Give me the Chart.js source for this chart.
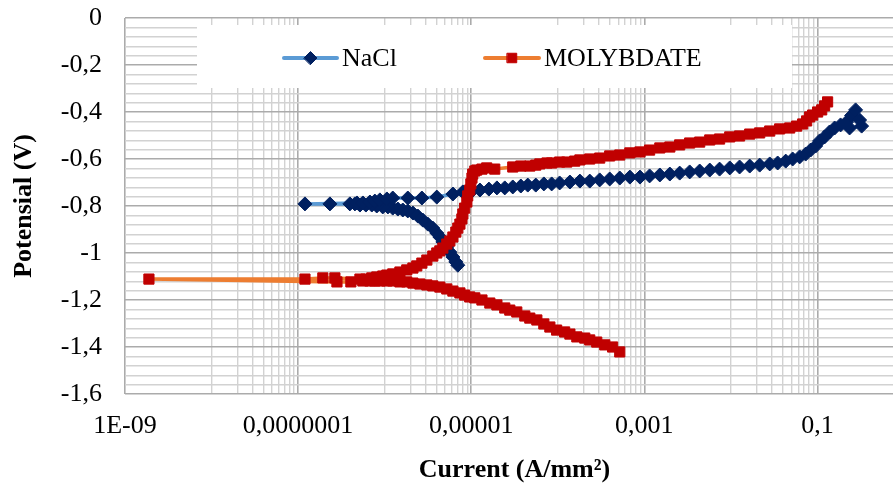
<!DOCTYPE html>
<html><head><meta charset="utf-8">
<script src="https://cdn.jsdelivr.net/npm/chart.js@4.4.1/dist/chart.umd.min.js"></script>
<style>
html,body{margin:0;padding:0;background:#fff;overflow:hidden;width:893px;height:486px}
#wrap{width:893px;height:486px;overflow:hidden;position:relative}
canvas{display:block}
</style></head>
<body><div id="wrap"><canvas id="c" width="920" height="486"></canvas></div>
<script>
const seriesNames = ['NaCl', 'MOLYBDATE'];

const naclCurrent = [
  7.0e-6, 6.64e-6, 6.14e-6, 5.66e-6, 5.22e-6, 4.7e-6, 4.34e-6, 4.0e-6, 3.6e-6, 3.15e-6,
  2.76e-6, 2.42e-6, 2.12e-6, 1.85e-6, 1.62e-6, 1.42e-6, 1.24e-6, 1.09e-6, 9.5e-7, 8.1e-7,
  7.1e-7, 6.07e-7, 5.18e-7, 4.53e-7, 3.96e-7, 2.33e-7, 1.2e-7,
  4.78e-7, 5.6e-7, 6.75e-7, 7.7e-7, 8.8e-7, 1.06e-6, 1.24e-6, 1.85e-6, 2.69e-6, 4.0e-6,
  6.14e-6, 8.0e-6, 1.02e-5, 1.26e-5, 1.6e-5, 1.98e-5, 2.44e-5, 3.02e-5, 3.74e-5, 4.5e-5,
  5.57e-5, 6.9e-5, 8.5e-5, 1.05e-4, 1.38e-4, 1.8e-4, 2.34e-4, 3.05e-4, 3.98e-4, 5.2e-4,
  6.8e-4, 8.9e-4, 1.15e-3, 1.51e-3, 1.97e-3, 2.56e-3, 3.34e-3, 4.36e-3, 5.7e-3, 7.4e-3,
  9.7e-3, 0.0126, 0.0165, 0.0215, 0.0281, 0.0347, 0.043, 0.0517, 0.0623, 0.0731, 0.0834,
  0.0953, 0.106, 0.121, 0.138, 0.158, 0.185, 0.217, 0.248, 0.276, 0.307, 0.324, 0.235
];
const naclPotential = [
  -1.052, -1.038, -1.017, -0.996, -0.974, -0.953, -0.932, -0.915, -0.894, -0.877,
  -0.860, -0.843, -0.830, -0.821, -0.817, -0.813, -0.809, -0.804, -0.804, -0.800,
  -0.796, -0.796, -0.796, -0.791, -0.791, -0.791, -0.791,
  -0.787, -0.787, -0.783, -0.779, -0.774, -0.770, -0.766, -0.766, -0.766, -0.762,
  -0.749, -0.740, -0.736, -0.732, -0.728, -0.723, -0.723, -0.719, -0.715, -0.711,
  -0.711, -0.706, -0.706, -0.702, -0.698, -0.694, -0.694, -0.689, -0.685, -0.681,
  -0.677, -0.677, -0.672, -0.668, -0.664, -0.660, -0.655, -0.651, -0.647, -0.643,
  -0.638, -0.634, -0.630, -0.626, -0.621, -0.617, -0.609, -0.600, -0.591, -0.579, -0.562,
  -0.545, -0.523, -0.506, -0.485, -0.468, -0.455, -0.443, -0.415, -0.391, -0.434, -0.460, -0.468
];

const molyCurrent = [
  5.2e-4, 4.3e-4, 3.49e-4, 2.82e-4, 2.34e-4, 2.05e-4, 1.66e-4, 1.38e-4, 1.2e-4, 9.7e-5,
  8.1e-5, 6.9e-5, 5.73e-5, 4.75e-5, 4.16e-5, 3.36e-5, 2.79e-5, 2.44e-5, 1.98e-5, 1.64e-5,
  1.33e-5, 1.10e-5, 9.6e-6, 8.4e-6, 7.4e-6, 6.14e-6, 5.22e-6, 4.34e-6, 3.6e-6, 3.07e-6,
  2.55e-6, 2.12e-6, 1.8e-6, 1.5e-6, 1.24e-6, 1.06e-6, 8.8e-7, 7.7e-7, 6.75e-7, 5.6e-7,
  4.07e-7, 2.81e-7, 1.89e-9, 1.2e-7, 1.93e-7, 2.66e-7, 5.18e-7, 6.07e-7, 7.1e-7, 8.1e-7,
  9.5e-7, 1.06e-6, 1.24e-6, 1.5e-6, 1.8e-6, 2.12e-6, 2.35e-6, 2.69e-6, 3.07e-6, 3.6e-6,
  4.0e-6, 4.34e-6, 4.7e-6, 5.22e-6, 5.66e-6, 6.14e-6, 6.64e-6, 7.0e-6, 7.4e-6, 7.8e-6,
  8.0e-6, 8.4e-6, 8.9e-6, 9.1e-6, 9.6e-6, 9.9e-6, 1.02e-5, 1.04e-5, 1.10e-5, 1.16e-5,
  1.33e-5, 1.51e-5, 1.87e-5, 3.02e-5, 3.74e-5, 4.75e-5, 5.57e-5, 6.2e-5, 7.5e-5, 8.5e-5,
  1.05e-4, 1.27e-4, 1.57e-4, 1.8e-4, 2.34e-4, 3.05e-4, 3.98e-4, 5.2e-4, 6.8e-4, 8.9e-4,
  1.15e-3, 1.51e-3, 1.97e-3, 2.56e-3, 3.34e-3, 4.36e-3, 5.7e-3, 7.4e-3, 9.7e-3, 0.0126,
  0.0165, 0.0215, 0.0281, 0.0366, 0.0478, 0.0575, 0.0675, 0.075, 0.0813, 0.088,
  0.1005, 0.112, 0.121, 0.131
];
const molyPotential = [
  -1.421, -1.400, -1.391, -1.379, -1.370, -1.362, -1.357, -1.345, -1.336, -1.328,
  -1.315, -1.302, -1.285, -1.277, -1.268, -1.251, -1.243, -1.234, -1.221, -1.213,
  -1.200, -1.191, -1.187, -1.179, -1.170, -1.162, -1.153, -1.145, -1.140, -1.136,
  -1.132, -1.128, -1.123, -1.123, -1.119, -1.119, -1.119, -1.119, -1.119, -1.119,
  -1.123, -1.123, -1.111, -1.111, -1.106, -1.106, -1.111, -1.111, -1.106, -1.102,
  -1.098, -1.094, -1.089, -1.081, -1.072, -1.064, -1.055, -1.043, -1.030, -1.013,
  -1.000, -0.991, -0.979, -0.962, -0.949, -0.932, -0.911, -0.894, -0.877, -0.855,
  -0.834, -0.809, -0.783, -0.757, -0.732, -0.706, -0.681, -0.664, -0.651, -0.647,
  -0.643, -0.638, -0.643, -0.634, -0.630, -0.630, -0.626, -0.621, -0.617, -0.617,
  -0.613, -0.613, -0.609, -0.604, -0.600, -0.596, -0.587, -0.583, -0.574, -0.570,
  -0.562, -0.553, -0.549, -0.540, -0.532, -0.528, -0.519, -0.515, -0.506, -0.502,
  -0.494, -0.489, -0.481, -0.472, -0.468, -0.460, -0.451, -0.438, -0.421, -0.413,
  -0.400, -0.391, -0.374, -0.357
];

const xTickValues = [1e-9, 1e-7, 1e-5, 1e-3, 1e-1];
const xTickLabels = ['1E-09', '0,0000001', '0,00001', '0,001', '0,1'];
const yTickValues = [0, -0.2, -0.4, -0.6, -0.8, -1, -1.2, -1.4, -1.6];
const yTickLabels = ['0', '-0,2', '-0,4', '-0,6', '-0,8', '-1', '-1,2', '-1,4', '-1,6'];
const xAxisTitle = 'Current (A/mm²)';
const yAxisTitle = 'Potensial (V)';

const X_MIN = 1e-9, X_MAX = 1;
const Y_MIN = -1.6, Y_MAX = 0, Y_MINOR = 0.04;
const MAJOR_GRID = '#ababab', MINOR_GRID = '#d2d2d2';
const FONT = "'Liberation Serif', 'Times New Roman', serif";

const lineColors = ['#5B9BD5', '#ED7D31'];
const markerColors = ['#002060', '#C00000'];
const markerStyles = ['rectRot', 'rect'];
const markerRadius = [7, 7.2];

function toPoints(xs, ys) { return xs.map((x, i) => ({ x: x, y: ys[i] })); }

function isMajorX(v) {
  if (Math.abs(Math.log10(v) - Math.log10(X_MAX)) < 1e-6) return true;
  return xTickValues.some(t => Math.abs(Math.log10(v) - Math.log10(t)) < 1e-6);
}
function xLabel(v) {
  const i = xTickValues.findIndex(t => Math.abs(Math.log10(v) - Math.log10(t)) < 1e-6);
  return i >= 0 ? xTickLabels[i] : '';
}
function yIndex(v) { return yTickValues.findIndex(t => Math.abs(v - t) < 1e-6); }

function buildXTicks() {
  const vals = xTickValues.slice();
  vals.push(X_MAX);
  for (let i = 0; i < xTickValues.length; i++) {
    const base = xTickValues[i] * 10;
    for (let k = 1; k <= 9; k++) vals.push(base * k);
  }
  return vals.filter(v => v <= X_MAX * 1.0000001).sort((a, b) => a - b).map(v => ({ value: v }));
}
function buildYTicks() {
  const out = [];
  const n = Math.round((Y_MAX - Y_MIN) / Y_MINOR);
  for (let i = 0; i <= n; i++) out.push({ value: Math.round((Y_MIN + i * Y_MINOR) * 1000) / 1000 });
  return out;
}

function drawMarker(ctx, style, r, x, y, color) {
  ctx.fillStyle = color; ctx.strokeStyle = color; ctx.lineWidth = 1;
  ctx.beginPath();
  if (style === 'rectRot') {
    ctx.moveTo(x - r, y); ctx.lineTo(x, y - r); ctx.lineTo(x + r, y); ctx.lineTo(x, y + r);
    ctx.closePath();
  } else {
    const s = Math.SQRT1_2 * r;
    ctx.rect(x - s, y - s, 2 * s, 2 * s);
  }
  ctx.fill(); ctx.stroke();
}

const legendPlugin = {
  id: 'insetLegend',
  beforeDatasetsDraw(chart) {
    const ctx = chart.ctx;
    ctx.save();
    ctx.fillStyle = '#ffffff';
    ctx.fillRect(197, 25, 595, 63);
    const pos = [{ x0: 284, x1: 337, tx: 342 }, { x0: 485, x1: 539, tx: 544 }];
    const y = 58;
    chart.data.datasets.forEach((ds, i) => {
      const p = pos[i];
      ctx.strokeStyle = lineColors[i];
      ctx.lineWidth = 4;
      ctx.lineCap = 'round';
      ctx.beginPath(); ctx.moveTo(p.x0, y); ctx.lineTo(p.x1, y); ctx.stroke();
      drawMarker(ctx, markerStyles[i], markerRadius[i] - 0.5, (p.x0 + p.x1) / 2, y, markerColors[i]);
      ctx.fillStyle = '#000000';
      ctx.font = '26px ' + FONT;
      ctx.textAlign = 'left';
      ctx.textBaseline = 'middle';
      ctx.fillText(ds.label, p.tx, y + 1);
    });
    ctx.restore();
  }
};

const datasets = [
  { label: seriesNames[0], data: toPoints(naclCurrent, naclPotential), order: 1 },
  { label: seriesNames[1], data: toPoints(molyCurrent, molyPotential), order: 0 }
].map((d, i) => Object.assign(d, {
  showLine: true,
  borderColor: lineColors[i],
  borderWidth: 3.5,
  backgroundColor: markerColors[i],
  pointBackgroundColor: markerColors[i],
  pointBorderColor: markerColors[i],
  pointBorderWidth: 1,
  pointStyle: markerStyles[i],
  pointRadius: markerRadius[i],
  pointHoverRadius: markerRadius[i],
  tension: 0
}));

Chart.defaults.font.family = FONT;
Chart.defaults.color = '#000000';

new Chart(document.getElementById('c'), {
  type: 'scatter',
  data: { datasets: datasets },
  options: {
    responsive: false,
    animation: false,
    devicePixelRatio: 1,
    layout: { padding: { top: 18, right: 16, left: 0, bottom: 0 } },
    plugins: { legend: { display: false }, tooltip: { enabled: false } },
    scales: {
      x: {
        type: 'logarithmic',
        position: 'bottom',
        min: X_MIN, max: X_MAX,
        afterBuildTicks: s => { s.ticks = buildXTicks(); },
        afterFit: s => { s.height = 92; s.paddingLeft = 0; s.paddingRight = 0; },
        border: { display: false },
        grid: {
          drawTicks: false,
          color: c => isMajorX(c.tick.value) ? MAJOR_GRID : MINOR_GRID,
          lineWidth: c => isMajorX(c.tick.value) ? 1.6 : 1.4
        },
        ticks: {
          autoSkip: false, maxRotation: 0, minRotation: 0,
          padding: 17,
          font: { size: 26, family: FONT },
          color: '#000000',
          callback: v => xLabel(v)
        },
        title: {
          display: true, text: xAxisTitle,
          font: { size: 26, weight: 'bold', family: FONT, lineHeight: 1.2 },
          color: '#000000',
          padding: { top: 0, bottom: 0 }
        }
      },
      y: {
        type: 'linear',
        min: Y_MIN, max: Y_MAX,
        afterBuildTicks: s => { s.ticks = buildYTicks(); },
        afterFit: s => { s.width = 125; s.paddingTop = 0; s.paddingBottom = 0; },
        border: { display: false },
        grid: {
          drawTicks: false,
          color: c => yIndex(c.tick.value) >= 0 ? MAJOR_GRID : MINOR_GRID,
          lineWidth: c => yIndex(c.tick.value) >= 0 ? 1.6 : 1.4
        },
        ticks: {
          autoSkip: false,
          padding: 23,
          font: { size: 26, family: FONT },
          color: '#000000',
          callback: v => { const i = yIndex(v); return i >= 0 ? yTickLabels[i] : ''; }
        },
        title: {
          display: true, text: yAxisTitle,
          font: { size: 26, weight: 'bold', family: FONT, lineHeight: 1.2 },
          color: '#000000',
          padding: { top: 9, bottom: 0 }
        }
      }
    }
  },
  plugins: [legendPlugin]
});
</script>
</body></html>
